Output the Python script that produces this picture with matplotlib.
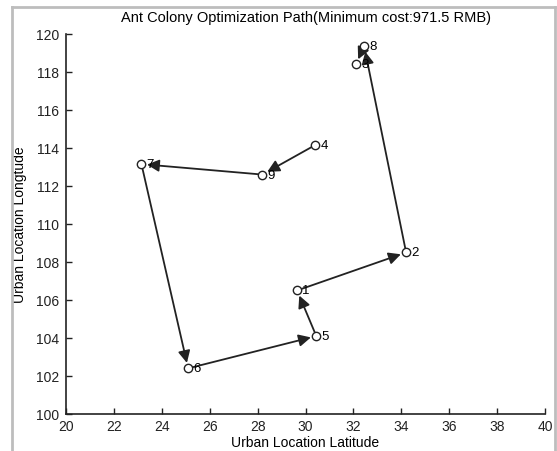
import matplotlib.pyplot as plt
import matplotlib.lines as mlines

plt.rcParams['font.family'] = ['Liberation Sans', 'DejaVu Sans']

# city coordinates (latitude, longitude)
city_id = [1, 2, 3, 4, 5, 6, 7, 8, 9]
lat = [29.65, 34.2, 32.1, 30.4, 30.45, 25.1, 23.15, 32.45, 28.2]
lon = [106.5, 108.5, 118.4, 114.15, 104.1, 102.4, 113.15, 119.35, 112.6]

# visiting order of the best ant
route = [4, 9, 7, 6, 5, 1, 2, 8, 3]

fig = plt.figure(figsize=(5.57, 4.52), dpi=100)
ax = fig.add_axes([0.1185, 0.082, 0.86, 0.8406])

# path arrows
for a, b in zip(route[:-1], route[1:]):
    i, j = a - 1, b - 1
    ax.annotate('', xy=(lat[j], lon[j]), xytext=(lat[i], lon[i]),
                arrowprops=dict(arrowstyle='-|>', color='#222222', lw=1.3,
                                mutation_scale=18, shrinkA=3, shrinkB=4))

ax.plot(lat, lon, 'o', ms=6, mfc='white', mec='#222222', mew=1.0, zorder=3)
for k, n in enumerate(city_id):
    ax.text(lat[k] + 0.22, lon[k], str(n), fontsize=9.5, va='center', ha='left', zorder=4)

ax.set_xlim(20, 40)
ax.set_ylim(100, 120)
ax.set_xticks(range(20, 41, 2))
ax.set_yticks(range(100, 121, 2))
ax.tick_params(direction='in', length=4, width=1, labelsize=10, colors='#222222')
ax.tick_params(axis='x', pad=4)
ax.tick_params(axis='y', pad=5)
ax.spines['top'].set_visible(False)
ax.spines['right'].set_visible(False)
for s in ['left', 'bottom']:
    ax.spines[s].set_linewidth(1.2)
    ax.spines[s].set_color('#222222')

ax.set_title('Ant Colony Optimization Path(Minimum cost:971.5 RMB)', fontsize=10.5, pad=9)
ax.set_xlabel('Urban Location Latitude', fontsize=10, labelpad=1)
ax.set_ylabel('Urban Location Longtude', fontsize=10, labelpad=6)

# screenshot border
for xs, ys in [([0.022, 0.022], [0.0, 0.983]), ([0.022, 0.997], [0.983, 0.983]), ([0.997, 0.997], [0.0, 0.983])]:
    fig.add_artist(mlines.Line2D(xs, ys, color='#bdbdbd', lw=2.0, transform=fig.transFigure))

fig.savefig('out.png', dpi=100, facecolor='white')
